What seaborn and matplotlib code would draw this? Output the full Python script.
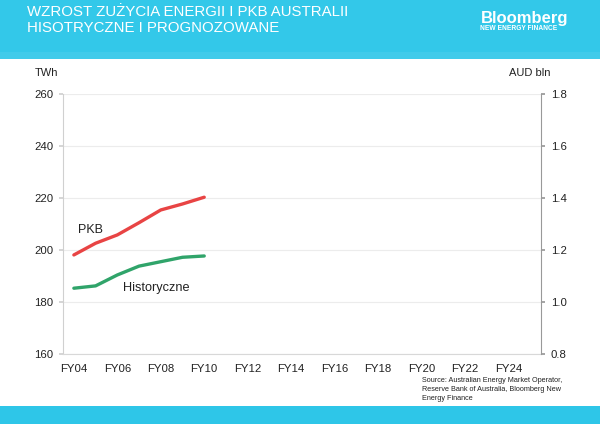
import matplotlib
matplotlib.use("Agg")
import matplotlib.pyplot as plt
import seaborn as sns
import pandas as pd
from matplotlib.patches import Rectangle

sns.set_theme(style="white")
plt.rcParams['font.family'] = ['Liberation Sans', 'DejaVu Sans']

years = [f"FY{y:02d}" for y in range(4, 26)]
hist_years = ["FY04", "FY05", "FY06", "FY07", "FY08", "FY09", "FY10"]
historyczne_twh = [185.3, 186.2, 190.4, 193.8, 195.5, 197.2, 197.7]
pkb_aud = [1.181, 1.226, 1.258, 1.305, 1.354, 1.377, 1.403]
tick_labels = years[::2]

title = "WZROST ZUŻYCIA ENERGII I PKB AUSTRALII\nHISOTRYCZNE I PROGNOZOWANE"
source = "Source: Australian Energy Market Operator,\nReserve Bank of Australia, Bloomberg New\nEnergy Finance"

df = pd.DataFrame({
    "x": [years.index(y) for y in hist_years],
    "hist": historyczne_twh,
    "pkb": pkb_aud,
})

fig = plt.figure(figsize=(6, 4.24), dpi=100)
fig.patch.set_facecolor("white")

# header and footer bands
fig.add_artist(Rectangle((0, 1 - 59/424), 1, 59/424, transform=fig.transFigure,
                         facecolor="#33c8e9", edgecolor="none", zorder=0))
fig.add_artist(Rectangle((0, 1 - 59/424), 1, 7/424, transform=fig.transFigure,
                         facecolor="#40cbea", edgecolor="none", zorder=0))
fig.add_artist(Rectangle((0, 0), 1, 18/424, transform=fig.transFigure,
                         facecolor="#2ec6e8", edgecolor="none", zorder=0))

fig.text(27/600, 1 - 5.5/424, title, color="white", fontsize=10.8, va="top", ha="left",
         linespacing=1.15)
fig.text(568/600, 1 - 18/424, "Bloomberg", color="white", fontsize=12, fontweight="bold",
         ha="right", va="center")
fig.text(557/600, 1 - 29/424, "NEW ENERGY FINANCE", color="white", fontsize=4.8,
         fontweight="bold", ha="right", va="center")

ax = fig.add_axes([63/600, 1 - 354/424, (541 - 63)/600, (354 - 94)/424])
ax.set_facecolor("white")
ax2 = ax.twinx()

sns.lineplot(data=df, x="x", y="hist", ax=ax, color="#30a46a", linewidth=2.4)
sns.lineplot(data=df, x="x", y="pkb", ax=ax2, color="#e84444", linewidth=2.4)

ax.set_xlim(-0.5, len(years) - 0.5)
ax.set_ylim(160, 260)
ax2.set_ylim(0.8, 1.8)
ax.set_yticks([160, 180, 200, 220, 240, 260])
ax2.set_yticks([0.8, 1.0, 1.2, 1.4, 1.6, 1.8])
ax2.set_yticklabels(["0.8", "1.0", "1.2", "1.4", "1.6", "1.8"])
ax.set_xticks(range(0, len(years), 2))
ax.set_xticklabels(tick_labels)
ax.set_xticks([i - 0.5 for i in range(0, len(years) + 1, 2)], minor=True)
ax.tick_params(axis="x", which="major", length=0, labelsize=8.2, pad=7, colors="#222222")
ax.tick_params(axis="x", which="minor", length=3.5, color="#d0d0d0", direction="out")
ax.tick_params(axis="y", length=3, labelsize=8.2, pad=4, colors="#222222", left=True)
ax.tick_params(axis="y", color="#d0d0d0")
ax2.tick_params(axis="y", length=3, labelsize=8.2, pad=4, colors="#222222", right=True)
ax2.tick_params(axis="y", color="#999999")
ax.set_xlabel("")
ax.set_ylabel("")
ax2.set_ylabel("")

ax.grid(axis="y", color="#ececec", linewidth=0.8)
ax.set_axisbelow(True)
for s in ["top"]:
    ax.spines[s].set_visible(False)
    ax2.spines[s].set_visible(False)
ax.spines["right"].set_visible(False)
ax2.spines["left"].set_visible(False)
ax2.spines["bottom"].set_visible(False)
ax.spines["left"].set_color("#d0d0d0")
ax.spines["bottom"].set_color("#d8d8d8")
ax2.spines["right"].set_color("#999999")
for s in ["left", "bottom"]:
    ax.spines[s].set_linewidth(0.8)
ax2.spines["right"].set_linewidth(0.8)

fig.text(35/600, 1 - 73/424, "TWh", fontsize=8, color="#222222", va="center", ha="left")
fig.text(509/600, 1 - 73/424, "AUD bln", fontsize=8, color="#222222", va="center", ha="left")

ax.text(0.2, 207.8, "PKB", fontsize=9, color="#222222", ha="left", va="center")
ax.text(2.25, 185.4, "Historyczne", fontsize=9.2, color="#222222", ha="left", va="center")

fig.text(422/600, 1 - 377/424, source, fontsize=5.2, color="#222222", va="top", ha="left",
         linespacing=1.35)

fig.savefig("out.png", dpi=100)
